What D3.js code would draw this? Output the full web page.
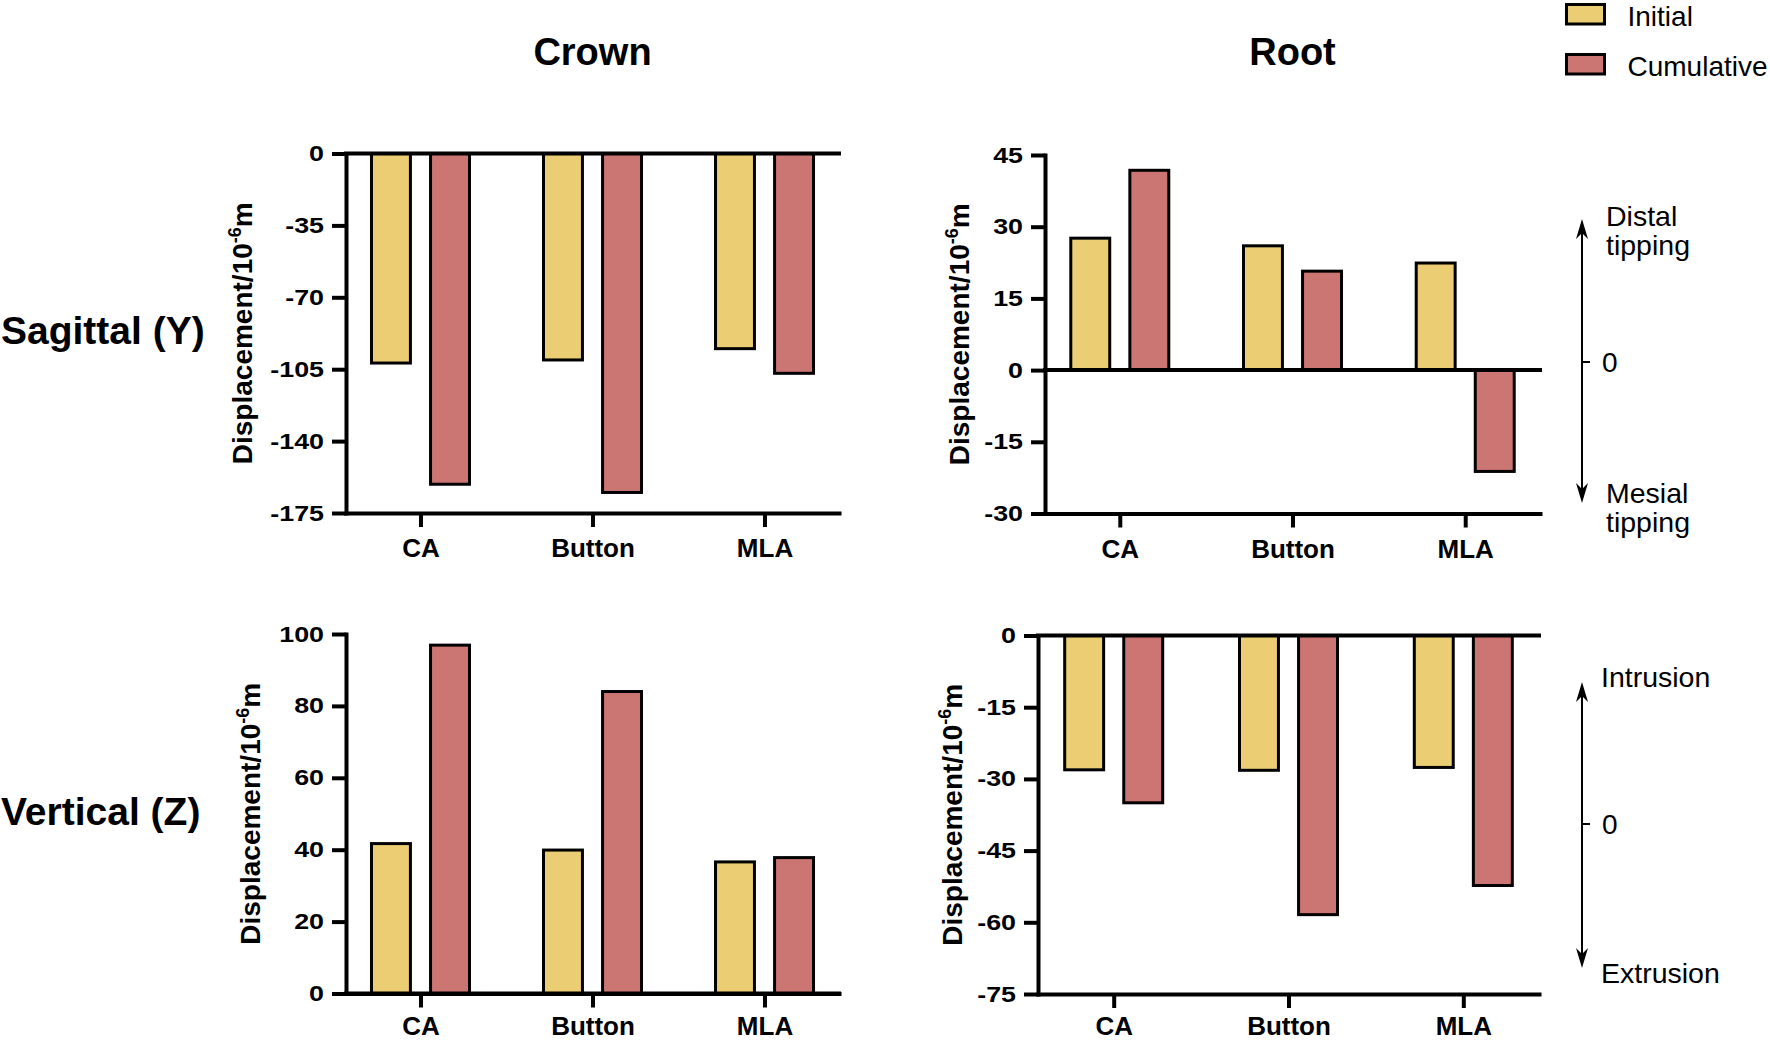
<!DOCTYPE html>
<html>
<head>
<meta charset="utf-8">
<script src="https://cdn.jsdelivr.net/npm/d3@7"></script>
<style>
  body { margin: 0; background: #fff; }
  svg { display: block; font-family: 'Liberation Sans', Arial, sans-serif; }
</style>
</head>
<body>
<svg id="chart" width="1770" height="1041"></svg>
<script>
'use strict';

var categories = ['CA', 'Button', 'MLA'];
var seriesNames = ['Initial', 'Cumulative'];
var seriesColors = ['#ebcd73', '#cc7673'];
var columnTitles = ['Crown', 'Root'];
var rowTitles = ['Sagittal (Y)', 'Vertical (Z)'];

// displacement in 10^-6 m
var crownSagittalInitial = [-102, -100.5, -95];
var crownSagittalCumulative = [-161, -165, -107];
var rootSagittalInitial = [27.6, 26, 22.4];
var rootSagittalCumulative = [41.8, 20.7, -21.2];
var crownVerticalInitial = [41.7, 39.9, 36.6];
var crownVerticalCumulative = [96.9, 84, 37.8];
var rootVerticalInitial = [-28.1, -28.2, -27.6];
var rootVerticalCumulative = [-35, -58.4, -52.3];

var crownSagittalTicks = [0, -35, -70, -105, -140, -175];
var rootSagittalTicks = [45, 30, 15, 0, -15, -30];
var crownVerticalTicks = [0, 20, 40, 60, 80, 100];
var rootVerticalTicks = [0, -15, -30, -45, -60, -75];

var sagittalNotes = [['Distal', 'tipping'], ['Mesial', 'tipping']];
var verticalNotes = [['Intrusion'], ['Extrusion']];

var svg = d3.select('#chart');

var tickStretch = 1.22;

var panels = [
  { initial: crownSagittalInitial, cumulative: crownSagittalCumulative, ticks: crownSagittalTicks,
    left: 346, right: 839, top: 153.5, bottom: 513, titleX: 242, labelPad: 12 },
  { initial: rootSagittalInitial, cumulative: rootSagittalCumulative, ticks: rootSagittalTicks,
    left: 1045, right: 1540, top: 155, bottom: 513.5, titleX: 959, labelPad: 12,
    note: { labels: sagittalNotes, lineX: 1582, textX: 1606, top: 219, bottom: 503, zero: 362, upperY: 226, lowerY: 503 } },
  { initial: crownVerticalInitial, cumulative: crownVerticalCumulative, ticks: crownVerticalTicks,
    left: 346, right: 839, top: 634, bottom: 993.5, titleX: 250, labelPad: 9 },
  { initial: rootVerticalInitial, cumulative: rootVerticalCumulative, ticks: rootVerticalTicks,
    left: 1038, right: 1539, top: 635.5, bottom: 994, titleX: 952, labelPad: 9,
    note: { labels: verticalNotes, lineX: 1582, textX: 1601, top: 682, bottom: 968, zero: 824, upperY: 687, lowerY: 983 } }
];

function plainNumber(d) {
  return String(d);
}

function drawPanel(p) {
  var g = svg.append('g');

  var x0 = d3.scalePoint().domain(categories).range([p.left, p.right]).padding(0.433);
  var x1 = d3.scaleBand().domain(seriesNames).range([-50.5, 50.5]).paddingInner(0.29);
  var y = d3.scaleLinear().domain(d3.extent(p.ticks)).range([p.bottom, p.top]);

  var rows = categories.map(function(c, i) {
    return { cat: c, vals: [p.initial[i], p.cumulative[i]] };
  });

  g.selectAll('.group')
      .data(rows)
    .enter().append('g')
      .attr('class', 'group')
      .attr('transform', function(d) { return 'translate(' + x0(d.cat) + ',0)'; })
    .selectAll('rect')
      .data(function(d) {
        return d.vals.map(function(v, j) { return { s: seriesNames[j], v: v, j: j }; });
      })
    .enter().append('rect')
      .attr('x', function(d) { return x1(d.s) + 1.5; })
      .attr('width', x1.bandwidth() - 3)
      .attr('y', function(d) { return Math.min(y(0), y(d.v)); })
      .attr('height', function(d) { return Math.abs(y(d.v) - y(0)); })
      .attr('fill', function(d) { return seriesColors[d.j]; })
      .attr('stroke', '#000')
      .attr('stroke-width', 3);

  // baseline at zero
  g.append('line')
    .attr('x1', p.left).attr('x2', p.right)
    .attr('y1', y(0)).attr('y2', y(0))
    .attr('stroke', '#000')
    .attr('stroke-width', 4)
    .attr('stroke-linecap', 'square');

  var yAxis = g.append('g')
    .attr('transform', 'translate(' + p.left + ',0)')
    .call(d3.axisLeft(y).tickValues(p.ticks).tickFormat(plainNumber)
      .tickSize(14).tickSizeOuter(0).tickPadding(8));

  var xAxis = g.append('g')
    .attr('transform', 'translate(0,' + p.bottom + ')')
    .call(d3.axisBottom(x0).tickSize(14).tickSizeOuter(0).tickPadding(p.labelPad));

  [yAxis, xAxis].forEach(function(ax) {
    ax.attr('font-family', null).attr('font-size', null);
    ax.select('.domain').attr('stroke-width', 4).attr('stroke-linecap', 'square');
    ax.selectAll('.tick line').attr('stroke-width', 4);
    ax.selectAll('.tick text').attr('fill', '#000').attr('font-weight', 'bold');
  });
  // the original tick numbers are a wide bold face, so stretch them a little
  yAxis.selectAll('.tick text')
    .attr('font-size', 22)
    .attr('transform', 'scale(' + tickStretch + ',1)')
    .attr('x', -22 / tickStretch);
  xAxis.selectAll('.tick text').attr('font-size', 26);

  var title = g.append('text')
    .attr('transform', 'translate(' + p.titleX + ',' + ((p.top + p.bottom) / 2) + ') rotate(-90)')
    .attr('text-anchor', 'middle')
    .attr('dy', '0.35em')
    .attr('font-size', 28)
    .attr('font-weight', 'bold');
  title.append('tspan').text('Displacement/10');
  title.append('tspan').attr('font-size', 18).attr('dy', -11).text('-6');
  title.append('tspan').attr('dy', 11).text('m');

  if (p.note) drawNote(p.note);
}

function arrowHead(x, yTip, dir) {
  // dir = 1 points up, -1 points down
  return 'M' + x + ',' + yTip +
    'L' + (x - 6) + ',' + (yTip + dir * 20) +
    'L' + x + ',' + (yTip + dir * 14) +
    'L' + (x + 6) + ',' + (yTip + dir * 20) + 'Z';
}

function drawNote(n) {
  var g = svg.append('g');
  g.append('line')
    .attr('x1', n.lineX).attr('x2', n.lineX)
    .attr('y1', n.top + 10).attr('y2', n.bottom - 10)
    .attr('stroke', '#000').attr('stroke-width', 2);
  g.append('path').attr('d', arrowHead(n.lineX, n.top, 1)).attr('fill', '#000');
  g.append('path').attr('d', arrowHead(n.lineX, n.bottom, -1)).attr('fill', '#000');
  g.append('line')
    .attr('x1', n.lineX).attr('x2', n.lineX + 8)
    .attr('y1', n.zero).attr('y2', n.zero)
    .attr('stroke', '#000').attr('stroke-width', 2);
  g.append('text')
    .attr('x', n.lineX + 20).attr('y', n.zero)
    .attr('dy', '0.35em')
    .attr('font-size', 28)
    .text('0');

  n.labels.forEach(function(lines, k) {
    var baseY = k === 0 ? n.upperY : n.lowerY;
    var t = g.append('text')
      .attr('x', n.textX)
      .attr('y', baseY)
      .attr('font-size', 28.5);
    lines.forEach(function(line, i) {
      t.append('tspan')
        .attr('x', n.textX)
        .attr('dy', i === 0 ? 0 : 29)
        .text(line);
    });
  });
}

panels.forEach(drawPanel);

// column titles over the plot centres
svg.selectAll('.colTitle')
    .data(columnTitles)
  .enter().append('text')
    .attr('class', 'colTitle')
    .attr('x', function(d, i) { return (panels[i].left + panels[i].right) / 2; })
    .attr('y', 65)
    .attr('text-anchor', 'middle')
    .attr('font-size', 38)
    .attr('font-weight', 'bold')
    .text(function(d) { return d; });

// row titles at the left
svg.selectAll('.rowTitle')
    .data(rowTitles)
  .enter().append('text')
    .attr('class', 'rowTitle')
    .attr('x', 1)
    .attr('y', function(d, i) { var p = panels[i * 2]; return (p.top + p.bottom) / 2; })
    .attr('dy', '0.28em')
    .attr('font-size', 39)
    .attr('font-weight', 'bold')
    .text(function(d) { return d; });

// legend
var legend = svg.append('g').selectAll('g')
    .data(seriesNames)
  .enter().append('g')
    .attr('transform', function(d, i) { return 'translate(1566.5,' + (4.5 + i * 50) + ')'; });

legend.append('rect')
  .attr('width', 38)
  .attr('height', 19.5)
  .attr('fill', function(d, i) { return seriesColors[i]; })
  .attr('stroke', '#000')
  .attr('stroke-width', 3);

legend.append('text')
  .attr('x', 61)
  .attr('y', 21)
  .attr('font-size', 28)
  .text(function(d) { return d; });
</script>
</body>
</html>
